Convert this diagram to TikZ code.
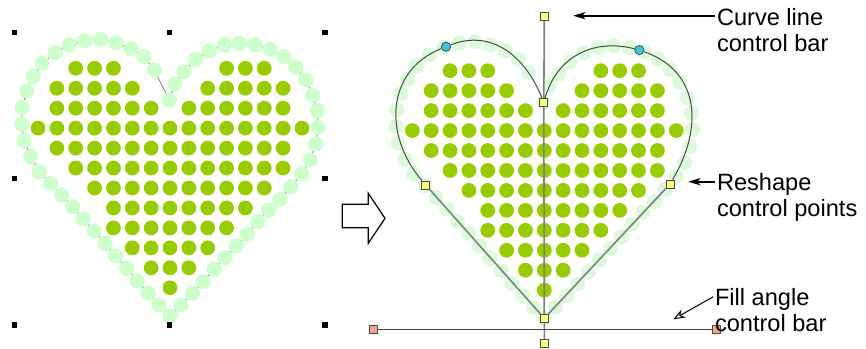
\documentclass[tikz,border=0pt]{standalone}
\usepackage{fontspec}
\setsansfont{Liberation Sans}
\usetikzlibrary{arrows.meta, positioning}
\definecolor{cfill}{HTML}{99CC00}
\definecolor{cedge}{HTML}{CCFFCC}
\definecolor{cedgelt}{HTML}{DCF9DC}
\definecolor{chandle}{HTML}{FFFF80}
\definecolor{cangle}{HTML}{F4A582}
\definecolor{cpoint}{HTML}{3CC8D8}
\definecolor{cgrey}{HTML}{808080}
\definecolor{cdark}{HTML}{4A4A4A}
\tikzset{
  every picture/.style={font=\sffamily, line width=0.5pt},
  filldot/.style={fill=cfill},
  edgedot/.style={fill=#1},
  edgedot/.default=cedge,
  stitch/.style={draw=cgrey, line width=0.4pt},
  selbox/.style={fill=black, minimum size=2.6pt, inner sep=0pt},
  handle/.style={draw=cdark, fill=#1, minimum size=4pt, inner sep=0pt, line width=0.4pt},
  handle/.default=chandle,
  ctrlpt/.style={circle, draw=cdark, fill=cpoint, minimum size=4.6pt, inner sep=0pt, line width=0.4pt},
  bar/.style={draw=cgrey, line width=0.8pt},
  outline/.style={draw=cdark, line width=0.5pt},
  callout/.style={-{Stealth[length=6pt, width=3.6pt, inset=1.5pt]}, line width=0.9pt},
  lbl/.style={font=\sffamily\fontsize{11.8pt}{13.3pt}\selectfont, align=left, inner sep=0pt, anchor=base west},
}
% stitch points round the heart, relative to the top of the middle column
\def\edgelist{-85/-27.6, -69.3/-29, -54/-25.6, -39/-19.6, -26/-11.6, -15.7/1.7,
  -0.7/31.7, 5/15.7, 14/3.4, 25.7/-9, 39.3/-17.6, 54.3/-23.3, 69.3/-25, 85/-23.3,
  100/-19, 114/-11.6, 125.7/-1, 135.7/11.7, 142.7/26.7, 147.3/42.4, 148.3/59,
  145.7/75.7, 140/91.7, 131.7/105.7, 121/118.4, 110/131, 98.7/141.7, 87.7/153.4,
  77.3/166, 66.3/177.7, 55/189.4, 44.3/201, 33.3/213.4, 22.3/225, 11/236.7,
  0/247.7, -10.7/236.7, -21.7/225, -32.7/212.7, -43.3/200, -54.3/187.7,
  -65/175, -75.7/162.7, -86.7/150.7, -97.3/138.4, -108.3/126.7, -119.3/115,
  -130.7/103.4, -139.3/88.4, -146/72.4, -148.3/55.7, -147.7/39, -143.3/22.7,
  -136.7/8.4, -127.7/-5, -115/-15.6, -100.7/-23.3}
\newcommand{\heartedge}[1]{%
  \foreach \x/\y in \edgelist \fill[edgedot=#1] (\x,\y) circle (3.8pt);
}
\newcommand{\heartfill}{%
  \foreach \r/\a/\b in {0/-5/-3, 0/3/5, 1/-6/-2, 1/2/6, 2/-6/-1, 2/1/6, 3/-7/7,
      4/-6/6, 5/-5/6, 6/-4/5, 7/-3/4, 8/-3/3, 9/-2/2, 10/-1/1, 11/0/0}
    \foreach \c in {\a,...,\b}
      \fill[filldot] (\c*18.85, \r*19.95) circle (3.7pt);
}

\begin{document}
\begin{tikzpicture}[x=0.5pt, y=-0.5pt]
  \useasboundingbox (0,0) rectangle (866,348);
  % (a) stitched heart, selected
  \begin{scope}[shift={(170,68.3)}]
    \draw[stitch] (-100.7,-23.3) \foreach \x/\y in \edgelist {-- (\x,\y)} -- cycle;
    \heartedge{cedge}
    \heartfill
  \end{scope}
  \foreach \x/\y [count=\i] in {14.3/32.7, 169.7/32.7, 325/32.7, 14.3/178.3,
      325/178.3, 14.3/325, 169.7/325, 325/325}
    \node[selbox] (sel\i) at (\x,\y) {};

  % hollow arrow between the two
  \draw[line width=0.6pt] (342.3,204.3) -- (368.3,204.3) -- (368.3,193.3) -- (385,218.3)
    -- (368.3,243.3) -- (368.3,227.7) -- (342.3,227.7) -- cycle;

  % (b) same heart in reshape mode
  \begin{scope}[shift={(544.3,70.7)}]
    \heartedge{cedgelt}
    \heartfill
  \end{scope}
  \node[handle] (bartop) at (544.3,16.7) {};
  \node[handle] (notch) at (543.8,102.3) {};
  \node[handle] (tip) at (544.3,318.3) {};
  \node[handle] (barbot) at (544.3,343.3) {};
  \node[handle] (rleft) at (425.7,185) {};
  \node[handle] (rright) at (670,184) {};
  \node[ctrlpt] (lobeL) at (446,46.7) {};
  \node[ctrlpt] (lobeR) at (639.3,50) {};
  \node[handle=cangle] (angL) at (373.3,329.3) {};
  \node[handle=cangle] (angR) at (716.7,329.3) {};
  \draw[bar] (bartop) -- (notch) -- (tip) -- (barbot);
  \draw[draw=cdark, line width=0.7pt] (angL) -- (angR);
  \draw[outline] (notch) .. controls (522.9,51.1) and (487.9,30.1) .. (lobeL)
    .. controls (385.6,70.8) and (383.4,135.6) .. (rleft);
  \draw[outline] (rright) .. controls (703.2,128.1) and (700.4,71.5) .. (lobeR)
    .. controls (595.7,38.8) and (557.8,54.3) .. (notch);
  \draw[bar] (rleft) -- (tip) -- (rright);

  % labels (base = last line)
  \node[lbl] (lcurve) at (716.5,51.7) {Curve line\\control bar};
  \node[lbl] (lreshape) at (716.5,216.7) {Reshape\\control points};
  \node[lbl] (lfill) at (714.5,331.7) {Fill angle\\control bar};
  \coordinate (curvehead) at (573.3,15.7);
  \coordinate (reshapehead) at (688.3,181.7);
  \coordinate (filltail) at (713.3,296.7);
  \coordinate (fillhead) at (673.3,319.3);
  \draw[callout] ([xshift=-1pt]lcurve.west |- curvehead) -- (curvehead);
  \draw[callout] ([xshift=-1pt]lreshape.west |- reshapehead) -- (reshapehead);
  \draw[-{Stealth[open, length=6pt, width=4.5pt]}, line width=0.5pt] (filltail) -- (fillhead);
\end{tikzpicture}
\end{document}
